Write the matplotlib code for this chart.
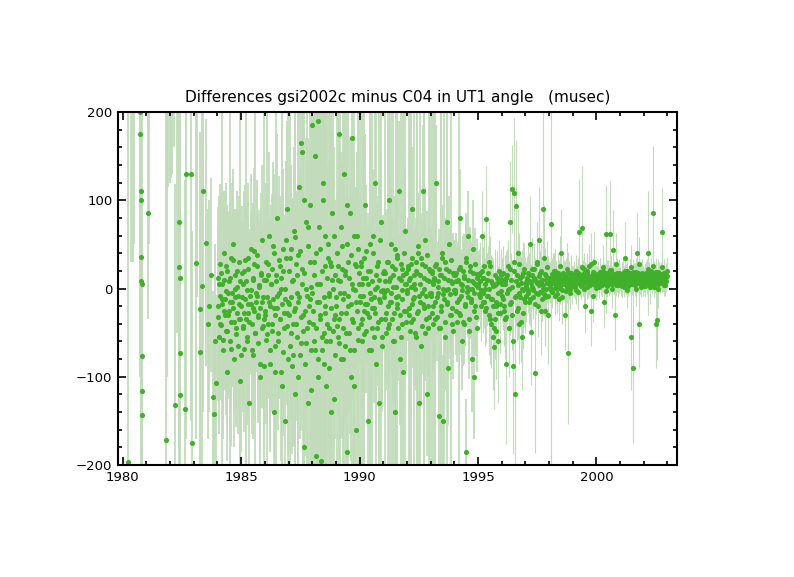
import numpy as np
import matplotlib
matplotlib.use('Agg')
import matplotlib.pyplot as plt
from matplotlib.ticker import MultipleLocator

# ---- data (epoch in years, difference and sigma in musec) ----
t_early = [1980.22, 1980.35, 1980.42, 1980.47,
           1980.74, 1980.75, 1980.76, 1980.77, 1980.78, 1980.79, 1980.80, 1980.81, 1980.82, 1980.83,
           1981.05, 1981.10,
           1981.81, 1981.86, 1981.92, 1981.98, 1982.04, 1982.10, 1982.16,
           1982.22, 1982.30, 1982.36, 1982.39, 1982.40, 1982.41, 1982.42, 1982.63, 1982.66, 1982.87, 1982.92,
           1983.08, 1983.15, 1983.25, 1983.27, 1983.33, 1983.39, 1983.53, 1983.60, 1983.66, 1983.72,
           1983.81, 1983.84, 1983.90, 1983.95]
d_early = [-197, 260, 240, 230,
           200, 175, 110, 100, 36, 8, 5, -76, -116, -143,
           86, 250,
           -172, 300, 280, 260, 250, 240, 260,
           -132, 250, 75, 24, 12, -73, -121, -137, 130, 130, -175,
           29, 240, -23, -72, 3, 110, 52, -40, -20, 15, -123, -142, -60, -107]
s_early = [420, 230, 210, 180,
           300, 250, 200, 280, 220, 300, 250, 150, 180, 60,
           120, 200,
           420, 400, 165, 140, 125, 110, 100,
           250, 300, 260, 230, 280, 250, 200, 260, 300, 280, 240,
           200, 250, 200, 150, 220, 250, 140, 130, 120, 110, 120, 100, 110, 100]

# first pass of sessions, 36 per year
t84 = [1984.01, 1984.04, 1984.07, 1984.09, 1984.12, 1984.15, 1984.18, 1984.20, 1984.23, 1984.26, 1984.29, 1984.31,
       1984.34, 1984.37, 1984.40, 1984.42, 1984.45, 1984.48, 1984.51, 1984.53, 1984.56, 1984.59, 1984.62, 1984.64,
       1984.67, 1984.70, 1984.73, 1984.75, 1984.78, 1984.81, 1984.84, 1984.86, 1984.89, 1984.92, 1984.95, 1984.97]
d84 = [-32, 12, -55, -8, 28, -41, -18, 5, -70, -25, 40, -12,
       -48, -3, 20, -95, -30, 8, -60, -15, 35, -38, -5, -22,
       50, -80, -10, 15, -45, -28, 2, -65, -18, 30, -35, -105]
s84 = [95, 80, 110, 75, 90, 85, 260, 80, 100, 90, 70, 85,
       95, 110, 75, 100, 90, 80, 95, 240, 85, 95, 70, 90,
       85, 100, 80, 75, 90, 95, 85, 100, 80, 75, 300, 90]

t85 = [1985.01, 1985.04, 1985.07, 1985.09, 1985.12, 1985.15, 1985.18, 1985.20, 1985.23, 1985.26, 1985.29, 1985.31,
       1985.34, 1985.37, 1985.40, 1985.42, 1985.45, 1985.48, 1985.51, 1985.53, 1985.56, 1985.59, 1985.62, 1985.64,
       1985.67, 1985.70, 1985.73, 1985.75, 1985.78, 1985.81, 1985.84, 1985.86, 1985.89, 1985.92, 1985.95, 1985.97]
d85 = [-20, 18, -42, 5, -68, -12, 32, -35, -2, -55, 22, -28,
       -130, -8, 45, -18, -40, 10, -75, -25, 28, -50, -5, -15,
       38, -62, -30, 2, -100, -22, 15, -45, 55, -10, -35, -88]
s85 = [80, 75, 90, 70, 95, 80, 85, 250, 75, 90, 80, 85,
       110, 75, 85, 80, 90, 70, 95, 85, 80, 320, 75, 80,
       85, 90, 80, 75, 100, 85, 70, 90, 85, 80, 280, 95]

t86 = [1986.01, 1986.04, 1986.07, 1986.09, 1986.12, 1986.15, 1986.18, 1986.20, 1986.23, 1986.26, 1986.29, 1986.31,
       1986.34, 1986.37, 1986.40, 1986.42, 1986.45, 1986.48, 1986.51, 1986.53, 1986.56, 1986.59, 1986.62, 1986.64,
       1986.67, 1986.70, 1986.73, 1986.75, 1986.78, 1986.81, 1986.84, 1986.86, 1986.89, 1986.92, 1986.95, 1986.97]
d86 = [-25, 30, -58, -10, 15, -40, 60, -20, -85, 5, -48, 22,
       -12, -140, 40, -30, -65, 8, -22, 80, -50, -5, 25, -35,
       -95, 12, -18, 45, -72, -28, 0, -150, 35, -42, 90, -15]
s86 = [85, 90, 95, 300, 80, 85, 95, 80, 100, 75, 90, 85,
       80, 110, 90, 85, 95, 270, 80, 95, 90, 85, 80, 90,
       100, 80, 310, 90, 95, 85, 80, 110, 85, 90, 100, 260]

t87 = [1987.01, 1987.04, 1987.07, 1987.09, 1987.12, 1987.15, 1987.18, 1987.20, 1987.23, 1987.26, 1987.29, 1987.31,
       1987.34, 1987.37, 1987.40, 1987.42, 1987.45, 1987.48, 1987.51, 1987.53, 1987.56, 1987.59, 1987.62, 1987.64,
       1987.67, 1987.70, 1987.73, 1987.75, 1987.78, 1987.81, 1987.84, 1987.86, 1987.89, 1987.92, 1987.95, 1987.97]
d87 = [-30, 20, -65, 45, -10, -88, 10, -40, 65, -22, -120, 28,
       -5, -55, 38, -15, 115, -75, -32, 165, 5, 155, -48, -180,
       18, -25, 75, -62, -8, -130, 48, -38, -12, 95, -70, 2]
s87 = [90, 85, 300, 95, 80, 100, 90, 85, 95, 320, 110, 80,
       85, 95, 90, 280, 100, 95, 90, 110, 85, 100, 330, 120,
       85, 90, 95, 100, 300, 110, 90, 85, 350, 95, 100, 80]

t88 = [1988.01, 1988.04, 1988.07, 1988.09, 1988.12, 1988.15, 1988.18, 1988.20, 1988.23, 1988.26, 1988.29, 1988.31,
       1988.34, 1988.37, 1988.40, 1988.42, 1988.45, 1988.48, 1988.51, 1988.53, 1988.56, 1988.59, 1988.62, 1988.64,
       1988.67, 1988.70, 1988.73, 1988.75, 1988.78, 1988.81, 1988.84, 1988.86, 1988.89, 1988.92, 1988.95, 1988.97]
d88 = [185, -25, -60, 30, 150, -45, -190, 5, -80, 190, -15, 45,
       -35, -195, 20, -70, 120, -10, -50, 60, -28, -110, 12, -40,
       35, -90, -5, -60, 25, -22, 85, -48, 0, -125, 15, -30]
s88 = [320, 350, 300, 340, 310, 360, 330, 300, 350, 320, 310, 340,
       300, 330, 320, 350, 310, 90, 300, 85, 320, 95, 90, 330,
       85, 95, 300, 90, 85, 280, 95, 90, 310, 100, 85, 90]

t89 = [1989.01, 1989.04, 1989.07, 1989.09, 1989.12, 1989.15, 1989.18, 1989.20, 1989.23, 1989.26, 1989.29, 1989.31,
       1989.34, 1989.37, 1989.40, 1989.42, 1989.45, 1989.48, 1989.51, 1989.53, 1989.56, 1989.59, 1989.62, 1989.64,
       1989.67, 1989.70, 1989.73, 1989.75, 1989.78, 1989.81, 1989.84, 1989.86, 1989.89, 1989.92, 1989.95, 1989.97]
d89 = [-20, 40, -55, 10, 175, -35, -5, 70, -80, 22, -45, -12,
       130, -65, 15, -28, 50, -185, -8, 30, -50, 85, -18, -100,
       5, 170, -38, 60, -70, -2, 25, -160, -25, 45, -58, 18]
s89 = [85, 300, 90, 80, 110, 95, 320, 85, 90, 80, 290, 85,
       100, 90, 80, 330, 85, 110, 80, 300, 90, 85, 80, 95,
       85, 120, 90, 85, 300, 80, 90, 110, 85, 340, 90, 80]

t90 = [1990.01, 1990.04, 1990.07, 1990.09, 1990.12, 1990.15, 1990.18, 1990.20, 1990.23, 1990.26, 1990.29, 1990.31,
       1990.34, 1990.37, 1990.40, 1990.42, 1990.45, 1990.48, 1990.51, 1990.53, 1990.56, 1990.59, 1990.62, 1990.64,
       1990.67, 1990.70, 1990.73, 1990.75, 1990.78, 1990.81, 1990.84, 1990.86, 1990.89, 1990.92, 1990.95, 1990.97]
d90 = [-15, 25, -40, 5, -60, -8, 35, -25, 95, -48, 12, -18,
       -150, 20, -32, 50, -5, -70, 8, -22, 40, -55, -10, 120,
       -28, 15, -45, 2, 30, -130, -12, 55, -35, -3, -65, 18]
s90 = [70, 65, 300, 60, 75, 65, 70, 350, 80, 70, 65, 60,
       90, 65, 70, 300, 60, 75, 65, 320, 70, 75, 60, 85,
       70, 280, 65, 60, 75, 90, 65, 70, 340, 60, 75, 65]

t91 = [1991.01, 1991.04, 1991.07, 1991.09, 1991.12, 1991.15, 1991.18, 1991.20, 1991.23, 1991.26, 1991.29, 1991.31,
       1991.34, 1991.37, 1991.40, 1991.42, 1991.45, 1991.48, 1991.51, 1991.53, 1991.56, 1991.59, 1991.62, 1991.64,
       1991.67, 1991.70, 1991.73, 1991.75, 1991.78, 1991.81, 1991.84, 1991.86, 1991.89, 1991.92, 1991.95, 1991.97]
d91 = [-10, 20, -35, 8, -50, -2, 30, -20, 100, -40, 12, -15,
       -5, 25, -60, 15, -28, 45, -140, 2, -18, 35, -45, -8,
       110, -30, 10, -55, 22, -12, -95, 40, -25, 5, -38, 18]
s91 = [60, 55, 300, 50, 65, 55, 310, 60, 75, 60, 55, 290,
       60, 55, 65, 330, 55, 60, 85, 50, 300, 55, 60, 55,
       80, 55, 320, 60, 55, 50, 75, 55, 60, 340, 55, 50]

t92 = [1992.01, 1992.04, 1992.07, 1992.09, 1992.12, 1992.15, 1992.18, 1992.20, 1992.23, 1992.26, 1992.29, 1992.31,
       1992.34, 1992.37, 1992.40, 1992.42, 1992.45, 1992.48, 1992.51, 1992.53, 1992.56, 1992.59, 1992.62, 1992.64,
       1992.67, 1992.70, 1992.73, 1992.75, 1992.78, 1992.81, 1992.84, 1992.86, 1992.89, 1992.92, 1992.95, 1992.97]
d92 = [-5, 22, -30, 10, -48, 2, 28, -18, 90, -35, 15, -10,
       0, 30, -55, 18, -25, 40, -130, 5, -15, 35, -42, -5,
       110, -22, 12, -50, 25, -8, -120, 38, -20, 8, -32, 20]
s92 = [55, 50, 300, 45, 60, 50, 320, 55, 70, 55, 50, 280,
       55, 50, 60, 310, 50, 55, 80, 45, 300, 50, 55, 50,
       75, 50, 290, 55, 50, 45, 70, 50, 55, 330, 50, 45]

t93 = [1993.01, 1993.04, 1993.07, 1993.09, 1993.12, 1993.15, 1993.18, 1993.20, 1993.23, 1993.26, 1993.29, 1993.31,
       1993.34, 1993.37, 1993.40, 1993.42, 1993.45, 1993.48, 1993.51, 1993.53, 1993.56, 1993.59, 1993.62, 1993.64,
       1993.67, 1993.70, 1993.73, 1993.75, 1993.78, 1993.81, 1993.84, 1993.86, 1993.89, 1993.92, 1993.95, 1993.97]
d93 = [-8, 18, -28, 5, -40, 12, 25, -15, 120, -32, 8, -5,
       -145, 22, -45, 15, -20, 35, -150, 0, -12, 30, -38, -2,
       75, -18, 10, -90, 20, -6, -30, 32, -22, 6, -48, 15]
s93 = [50, 45, 290, 45, 55, 45, 300, 50, 65, 50, 45, 45,
       70, 45, 55, 280, 45, 50, 75, 45, 310, 50, 50, 45,
       60, 45, 50, 65, 45, 45, 300, 45, 50, 45, 55, 40]

t94 = [1994.01, 1994.04, 1994.07, 1994.09, 1994.12, 1994.15, 1994.18, 1994.20, 1994.23, 1994.26, 1994.29, 1994.31,
       1994.34, 1994.37, 1994.40, 1994.42, 1994.45, 1994.48, 1994.51, 1994.53, 1994.56, 1994.59, 1994.62, 1994.64,
       1994.67, 1994.70, 1994.73, 1994.75, 1994.78, 1994.81, 1994.84, 1994.86, 1994.89, 1994.92, 1994.95, 1994.97]
d94 = [-5, 15, -25, 8, -38, 10, 22, -12, 80, -30, 5, -2,
       -60, 20, -40, 12, -18, 30, -185, 2, -10, 60, -35, 0,
       25, -15, 8, -80, 18, -5, -100, 28, -20, 4, -45, 12]
s94 = [45, 40, 50, 40, 45, 40, 260, 45, 55, 45, 40, 40,
       55, 40, 45, 50, 40, 45, 60, 40, 45, 50, 45, 40,
       45, 40, 45, 60, 40, 40, 70, 40, 45, 40, 50, 35]

t95 = [1995.01, 1995.04, 1995.07, 1995.09, 1995.12, 1995.15, 1995.18, 1995.20, 1995.23, 1995.26, 1995.29, 1995.31,
       1995.34, 1995.37, 1995.40, 1995.42, 1995.45, 1995.48, 1995.51, 1995.53, 1995.56, 1995.59, 1995.62, 1995.64,
       1995.67, 1995.70, 1995.73, 1995.75, 1995.78, 1995.81, 1995.84, 1995.86, 1995.89, 1995.92, 1995.95, 1995.97]
d95 = [2, 15, -10, 8, -20, 20, 60, -5, 12, -15, 5, -25,
       79, 10, -8, 18, -30, 0, 25, -12, -40, 6, -55, -20,
       -66, -35, 4, -48, -15, 12, -28, -60, 8, -18, -3, 15]
s95 = [35, 30, 35, 30, 40, 30, 50, 30, 35, 30, 30, 40,
       60, 30, 35, 30, 45, 30, 35, 30, 50, 30, 60, 35,
       70, 45, 30, 55, 35, 30, 40, 70, 30, 35, 30, 30]

t96 = [1996.01, 1996.04, 1996.07, 1996.09, 1996.12, 1996.15, 1996.18, 1996.20, 1996.23, 1996.26, 1996.29, 1996.31,
       1996.34, 1996.37, 1996.40, 1996.42, 1996.45, 1996.48, 1996.51, 1996.53, 1996.56, 1996.59, 1996.62, 1996.64,
       1996.67, 1996.70, 1996.73, 1996.75, 1996.78, 1996.81, 1996.84, 1996.86, 1996.89, 1996.92, 1996.95, 1996.97]
d96 = [5, -12, 18, -25, 8, -35, -86, 12, -5, 25, -45, 0,
       75, -18, 10, -30, 113, -88, 20, 108, -120, 93, -8, 15,
       -22, 4, -40, 28, -10, 6, -55, 14, -2, -28, 22, -15]
s96 = [30, 35, 30, 40, 30, 45, 90, 30, 35, 30, 50, 30,
       70, 35, 30, 40, 50, 100, 30, 85, 100, 75, 35, 30,
       35, 30, 45, 35, 30, 30, 60, 30, 35, 40, 30, 35]

t97 = [1997.01, 1997.04, 1997.07, 1997.09, 1997.12, 1997.15, 1997.18, 1997.20, 1997.23, 1997.26, 1997.29, 1997.31,
       1997.34, 1997.37, 1997.40, 1997.42, 1997.45, 1997.48, 1997.51, 1997.53, 1997.56, 1997.59, 1997.62, 1997.64,
       1997.67, 1997.70, 1997.73, 1997.75, 1997.78, 1997.81, 1997.84, 1997.86, 1997.89, 1997.92, 1997.95, 1997.97]
d97 = [5, -8, 12, -2, 18, -15, 50, 8, -49, 2, 15, -10,
       0, 22, -96, 10, -5, 28, 6, -20, 14, 55, -4, 8,
       20, -12, 4, 90, -6, 16, -25, 10, 0, 24, -8, 12]
s97 = [25, 30, 25, 25, 30, 25, 55, 25, 60, 25, 30, 25,
       25, 30, 90, 25, 25, 30, 25, 35, 25, 60, 25, 25,
       30, 25, 25, 120, 25, 30, 40, 25, 25, 30, 25, 25]

t98 = [1998.01, 1998.04, 1998.07, 1998.09, 1998.12, 1998.15, 1998.18, 1998.20, 1998.23, 1998.26, 1998.29, 1998.31,
       1998.34, 1998.37, 1998.40, 1998.42, 1998.45, 1998.48, 1998.51, 1998.53, 1998.56, 1998.59, 1998.62, 1998.64,
       1998.67, 1998.70, 1998.73, 1998.75, 1998.78, 1998.81, 1998.84, 1998.86, 1998.89, 1998.92, 1998.95, 1998.97]
d98 = [8, 2, 73, 12, -4, 15, 6, 20, -8, 10, 4, 14,
       0, 18, 7, -12, 11, 3, 40, 9, -2, 16, 5, 12,
       -30, 8, 14, 2, 19, -73, 6, 11, -5, 15, 9, 3]
s98 = [20, 18, 400, 20, 18, 25, 18, 20, 22, 18, 20, 18,
       20, 22, 18, 25, 18, 20, 50, 18, 20, 22, 18, 20,
       40, 18, 20, 18, 22, 80, 18, 20, 18, 22, 18, 20]

t99 = [1999.01, 1999.04, 1999.07, 1999.09, 1999.12, 1999.15, 1999.18, 1999.20, 1999.23, 1999.26, 1999.29, 1999.31,
       1999.34, 1999.37, 1999.40, 1999.42, 1999.45, 1999.48, 1999.51, 1999.53, 1999.56, 1999.59, 1999.62, 1999.64,
       1999.67, 1999.70, 1999.73, 1999.75, 1999.78, 1999.81, 1999.84, 1999.86, 1999.89, 1999.92, 1999.95, 1999.97]
d99 = [10, 4, 15, 8, 20, -2, 12, 6, 18, 64, 9, 14,
       3, 69, 11, 16, 5, 22, 7, -20, 13, 2, 17, 10,
       8, 25, 4, 14, -25, 11, 19, 6, 30, 9, 15, 1]
s99 = [15, 14, 16, 15, 18, 15, 15, 14, 16, 60, 15, 14,
       15, 70, 15, 16, 14, 18, 15, 30, 15, 14, 16, 15,
       15, 25, 14, 15, 40, 15, 16, 14, 35, 15, 15, 14]

t00 = [2000.01, 2000.04, 2000.07, 2000.09, 2000.12, 2000.15, 2000.18, 2000.20, 2000.23, 2000.26, 2000.29, 2000.31,
       2000.34, 2000.37, 2000.40, 2000.42, 2000.45, 2000.48, 2000.51, 2000.53, 2000.56, 2000.59, 2000.62, 2000.64,
       2000.67, 2000.70, 2000.73, 2000.75, 2000.78, 2000.81, 2000.84, 2000.86, 2000.89, 2000.92, 2000.95, 2000.97]
d00 = [12, 5, 16, 9, 2, 18, 7, 13, 4, 20, 10, -15,
       15, 6, 11, 62, 3, 17, 8, 14, 62, 9, 21, 5,
       12, 44, 7, 16, -30, 10, 4, 18, 13, 6, 15, 9]
s00 = [14, 13, 15, 14, 13, 16, 14, 13, 14, 16, 14, 30,
       14, 13, 15, 55, 13, 15, 14, 13, 60, 14, 16, 13,
       14, 45, 13, 15, 40, 14, 13, 16, 14, 13, 15, 14]

t01 = [2001.01, 2001.04, 2001.07, 2001.09, 2001.12, 2001.15, 2001.18, 2001.20, 2001.23, 2001.26, 2001.29, 2001.31,
       2001.34, 2001.37, 2001.40, 2001.42, 2001.45, 2001.48, 2001.51, 2001.53, 2001.56, 2001.59, 2001.62, 2001.64,
       2001.67, 2001.70, 2001.73, 2001.75, 2001.78, 2001.81, 2001.84, 2001.86, 2001.89, 2001.92, 2001.95, 2001.97]
d01 = [10, 4, 15, 8, 18, 2, 12, 35, 6, 14, 9, 20,
       3, 11, 16, 7, -55, 13, 5, 19, -90, 10, 15, 4,
       12, 40, 8, 17, -40, 6, 14, 10, 2, 18, 9, 13]
s01 = [13, 12, 14, 13, 15, 12, 13, 40, 12, 14, 13, 15,
       12, 13, 14, 12, 60, 13, 12, 14, 85, 13, 14, 12,
       13, 45, 12, 14, 50, 12, 13, 14, 12, 15, 13, 12]

t02 = [2002.01, 2002.04, 2002.07, 2002.09, 2002.12, 2002.15, 2002.18, 2002.20, 2002.23, 2002.26, 2002.29, 2002.31,
       2002.34, 2002.37, 2002.40, 2002.42, 2002.45, 2002.48, 2002.51, 2002.53, 2002.56, 2002.59, 2002.62, 2002.64,
       2002.67, 2002.70, 2002.73, 2002.75, 2002.78, 2002.81, 2002.84, 2002.86, 2002.89, 2002.92, 2002.95, 2002.97]
d02 = [9, 15, 3, 12, 18, 6, 40, 10, 16, 4, 13, 20,
       7, 86, 11, 2, 17, 8, -40, 14, -36, 5, 19, 10,
       12, 6, 16, 9, 64, 13, 4, 18, 10, 15, 8, 14]
s02 = [13, 14, 12, 13, 15, 12, 70, 13, 14, 12, 13, 15,
       12, 75, 13, 12, 14, 13, 50, 13, 45, 12, 14, 13,
       13, 12, 14, 13, 50, 13, 12, 15, 13, 14, 12, 13]

# second pass of sessions, 24 per year (the dense core)
t84b = [1984.02, 1984.06, 1984.10, 1984.14, 1984.19, 1984.23, 1984.27, 1984.31, 1984.35, 1984.40, 1984.44, 1984.48,
        1984.52, 1984.56, 1984.60, 1984.65, 1984.69, 1984.73, 1984.77, 1984.81, 1984.85, 1984.90, 1984.94, 1984.98]
d84b = [-20, 5, -40, 18, -12, -58, 10, -30, 25, -48, -5, -25, 12, -68, -15, 32, -38, 0, -52, 20, -8, -35, 8, -75]
s84b = [90, 100, 85, 95, 110, 90, 100, 85, 95, 105, 90, 100, 85, 110, 95, 90, 100, 85, 105, 90, 95, 100, 85, 110]

t85b = [1985.02, 1985.06, 1985.10, 1985.14, 1985.19, 1985.23, 1985.27, 1985.31, 1985.35, 1985.40, 1985.44, 1985.48,
        1985.52, 1985.56, 1985.60, 1985.65, 1985.69, 1985.73, 1985.77, 1985.81, 1985.85, 1985.90, 1985.94, 1985.98]
d85b = [-10, -45, 20, -28, 8, -60, -18, 35, -38, -2, -70, 12, -22, 42, -50, -8, 25, -32, 4, -85, 18, -15, -42, 10]
s85b = [85, 95, 90, 100, 85, 95, 90, 85, 100, 90, 95, 85, 90, 95, 100, 85, 90, 95, 85, 100, 90, 85, 95, 90]

t86b = [1986.02, 1986.06, 1986.10, 1986.14, 1986.19, 1986.23, 1986.27, 1986.31, 1986.35, 1986.40, 1986.44, 1986.48,
        1986.52, 1986.56, 1986.60, 1986.65, 1986.69, 1986.73, 1986.77, 1986.81, 1986.85, 1986.90, 1986.94, 1986.98]
d86b = [-30, 10, -52, 28, -15, -70, 5, -40, 48, -22, -95, 15, -8, -60, 32, -35, 0, -110, 20, -45, -12, 55, -28, -80]
s86b = [90, 95, 100, 90, 95, 105, 90, 100, 95, 90, 110, 95, 90, 100, 95, 90, 95, 110, 90, 100, 95, 90, 100, 105]

t87b = [1987.02, 1987.06, 1987.10, 1987.14, 1987.19, 1987.23, 1987.27, 1987.31, 1987.35, 1987.40, 1987.44, 1987.48,
        1987.52, 1987.56, 1987.60, 1987.65, 1987.69, 1987.73, 1987.77, 1987.81, 1987.85, 1987.90, 1987.94, 1987.98]
d87b = [-18, 35, -50, 8, -75, -25, 58, -40, 15, -100, -10, 42, -62, 22, -30, 100, -85, 0, -45, 70, -20, 30, -115, -5]
s87b = [95, 90, 100, 95, 105, 90, 300, 100, 95, 110, 90, 95, 100, 90, 95, 310, 105, 90, 95, 100, 90, 95, 110, 320]

t88b = [1988.02, 1988.06, 1988.10, 1988.14, 1988.19, 1988.23, 1988.27, 1988.31, 1988.35, 1988.40, 1988.44, 1988.48,
        1988.52, 1988.56, 1988.60, 1988.65, 1988.69, 1988.73, 1988.77, 1988.81, 1988.85, 1988.90, 1988.94, 1988.98]
d88b = [-40, 15, -70, 40, -15, -100, 70, -30, 5, -55, 100, -85, 25, -20, -60, 50, -8, -45, 30, -140, 10, -35, 60, -75]
s88b = [330, 310, 340, 320, 300, 350, 310, 330, 320, 300, 340, 310, 100, 95, 320, 90, 95, 100, 310, 110, 90, 95, 100, 95]

t89b = [1989.02, 1989.06, 1989.10, 1989.14, 1989.19, 1989.23, 1989.27, 1989.31, 1989.35, 1989.40, 1989.44, 1989.48,
        1989.52, 1989.56, 1989.60, 1989.65, 1989.69, 1989.73, 1989.77, 1989.81, 1989.85, 1989.90, 1989.94, 1989.98]
d89b = [-10, -42, 25, -62, 8, -28, 48, -80, -5, 20, -50, 95, -20, 12, -70, 38, -35, 0, -110, 28, -15, 60, -45, 5]
s89b = [90, 95, 85, 320, 90, 85, 95, 100, 300, 85, 90, 110, 85, 90, 95, 85, 310, 90, 110, 85, 90, 95, 90, 330]

t90b = [1990.02, 1990.06, 1990.10, 1990.14, 1990.19, 1990.23, 1990.27, 1990.31, 1990.35, 1990.40, 1990.44, 1990.48,
        1990.52, 1990.56, 1990.60, 1990.65, 1990.69, 1990.73, 1990.77, 1990.81, 1990.85, 1990.90, 1990.94, 1990.98]
d90b = [-8, 30, -35, 12, -52, -18, 42, -28, 5, -70, 20, -12, -45, 60, -22, 0, -85, 25, -38, 10, -15, 75, -55, -2]
s90b = [65, 70, 60, 300, 70, 65, 75, 60, 65, 80, 310, 65, 70, 75, 60, 65, 85, 70, 60, 320, 65, 80, 70, 65]

t91b = [1991.02, 1991.06, 1991.10, 1991.14, 1991.19, 1991.23, 1991.27, 1991.31, 1991.35, 1991.40, 1991.44, 1991.48,
        1991.52, 1991.56, 1991.60, 1991.65, 1991.69, 1991.73, 1991.77, 1991.81, 1991.85, 1991.90, 1991.94, 1991.98]
d91b = [-5, 18, -28, 30, -45, 8, -15, 50, -35, 2, -60, 22, -10, 38, -22, 12, -80, 28, -2, -40, 15, 65, -25, 5]
s91b = [55, 60, 55, 60, 65, 300, 55, 65, 60, 55, 70, 55, 310, 60, 55, 50, 75, 60, 55, 60, 300, 70, 55, 50]

t92b = [1992.02, 1992.06, 1992.10, 1992.14, 1992.19, 1992.23, 1992.27, 1992.31, 1992.35, 1992.40, 1992.44, 1992.48,
        1992.52, 1992.56, 1992.60, 1992.65, 1992.69, 1992.73, 1992.77, 1992.81, 1992.85, 1992.90, 1992.94, 1992.98]
d92b = [-2, 25, -22, 12, -38, 35, -12, 5, -50, 20, -28, 48, -8, 15, -65, 28, -18, 0, 55, -35, 10, -45, 22, -5]
s92b = [50, 55, 50, 310, 55, 50, 50, 45, 60, 50, 300, 60, 50, 45, 65, 50, 55, 290, 60, 55, 45, 55, 50, 320]

t93b = [1993.02, 1993.06, 1993.10, 1993.14, 1993.19, 1993.23, 1993.27, 1993.31, 1993.35, 1993.40, 1993.44, 1993.48,
        1993.52, 1993.56, 1993.60, 1993.65, 1993.69, 1993.73, 1993.77, 1993.81, 1993.85, 1993.90, 1993.94, 1993.98]
d93b = [-5, 20, -20, 10, -35, 28, -10, 2, -45, 15, -25, 40, -6, 12, -55, 22, -15, 0, 50, -30, 8, -40, 18, -2]
s93b = [45, 50, 45, 300, 50, 45, 45, 40, 55, 45, 290, 55, 45, 40, 60, 45, 310, 45, 55, 50, 40, 50, 45, 45]

t94b = [1994.02, 1994.06, 1994.10, 1994.14, 1994.19, 1994.23, 1994.27, 1994.31, 1994.35, 1994.40, 1994.44, 1994.48,
        1994.52, 1994.56, 1994.60, 1994.65, 1994.69, 1994.73, 1994.77, 1994.81, 1994.85, 1994.90, 1994.94, 1994.98]
d94b = [-2, 18, -15, 8, -28, 24, -8, 4, -38, 14, -20, 35, -4, 10, -48, 20, -12, 0, 45, -25, 6, -32, 16, 2]
s94b = [40, 45, 40, 45, 45, 40, 40, 35, 50, 40, 45, 50, 40, 35, 55, 40, 45, 40, 55, 45, 35, 45, 40, 40]

t95b = [1995.02, 1995.06, 1995.10, 1995.14, 1995.19, 1995.23, 1995.27, 1995.31, 1995.35, 1995.40, 1995.44, 1995.48,
        1995.52, 1995.56, 1995.60, 1995.65, 1995.69, 1995.73, 1995.77, 1995.81, 1995.85, 1995.90, 1995.94, 1995.98]
d95b = [5, -6, 18, -2, 12, -15, 25, 0, -22, 10, -8, 30, -35, 8, -12, 3, -45, 15, -20, 6, -5, 20, -28, 10]
s95b = [30, 30, 35, 30, 30, 35, 40, 30, 40, 30, 30, 45, 50, 30, 35, 30, 55, 30, 40, 30, 30, 35, 45, 30]

t96b = [1996.02, 1996.06, 1996.10, 1996.14, 1996.19, 1996.23, 1996.27, 1996.31, 1996.35, 1996.40, 1996.44, 1996.48,
        1996.52, 1996.56, 1996.60, 1996.65, 1996.69, 1996.73, 1996.77, 1996.81, 1996.85, 1996.90, 1996.94, 1996.98]
d96b = [-8, 10, -20, 5, -32, 15, -2, -45, 22, -15, 2, -60, 30, -10, 8, -25, 40, -5, 12, -38, 0, 18, -12, 6]
s96b = [30, 30, 35, 30, 45, 30, 30, 55, 35, 30, 30, 70, 40, 30, 30, 35, 50, 30, 30, 45, 30, 35, 30, 30]

t97b = [1997.02, 1997.06, 1997.10, 1997.14, 1997.19, 1997.23, 1997.27, 1997.31, 1997.35, 1997.40, 1997.44, 1997.48,
        1997.52, 1997.56, 1997.60, 1997.65, 1997.69, 1997.73, 1997.77, 1997.81, 1997.85, 1997.90, 1997.94, 1997.98]
d97b = [2, 10, -5, 15, -12, 6, 22, -2, 12, -18, 8, 30, -6, 4, 18, -25, 10, 0, 35, -10, 14, 6, -30, 9]
s97b = [22, 25, 22, 25, 30, 22, 35, 22, 25, 40, 22, 45, 25, 22, 25, 50, 22, 22, 60, 25, 22, 22, 55, 22]

t98b = [1998.02, 1998.06, 1998.10, 1998.14, 1998.19, 1998.23, 1998.27, 1998.31, 1998.35, 1998.40, 1998.44, 1998.48,
        1998.52, 1998.56, 1998.60, 1998.65, 1998.69, 1998.73, 1998.77, 1998.81, 1998.85, 1998.90, 1998.94, 1998.98]
d98b = [5, 12, -2, 16, 8, 1, 20, 10, -6, 14, 4, 25, 9, -10, 17, 6, 13, -3, 22, 7, 11, 0, 18, 5]
s98b = [18, 18, 20, 18, 18, 20, 25, 18, 22, 18, 18, 35, 18, 30, 20, 18, 18, 25, 30, 18, 18, 22, 20, 18]

t99b = [1999.02, 1999.06, 1999.10, 1999.14, 1999.19, 1999.23, 1999.27, 1999.31, 1999.35, 1999.40, 1999.44, 1999.48,
        1999.52, 1999.56, 1999.60, 1999.65, 1999.69, 1999.73, 1999.77, 1999.81, 1999.85, 1999.90, 1999.94, 1999.98]
d99b = [7, 14, 2, 18, 10, -4, 16, 5, 12, 24, 8, 0, 15, 9, 20, 3, 13, 6, 28, 11, -8, 17, 4, 12]
s99b = [14, 15, 14, 16, 14, 20, 15, 14, 15, 25, 14, 18, 15, 14, 20, 14, 15, 14, 35, 15, 30, 16, 14, 15]

t00b = [2000.02, 2000.06, 2000.10, 2000.14, 2000.19, 2000.23, 2000.27, 2000.31, 2000.35, 2000.40, 2000.44, 2000.48,
        2000.52, 2000.56, 2000.60, 2000.65, 2000.69, 2000.73, 2000.77, 2000.81, 2000.85, 2000.90, 2000.94, 2000.98]
d00b = [9, 15, 3, 19, 11, 6, 24, 8, 14, -3, 17, 10, 5, 21, 12, 0, 16, 7, 13, 28, 9, 4, 18, 11]
s00b = [13, 14, 13, 16, 13, 14, 25, 13, 14, 25, 15, 13, 14, 20, 13, 22, 14, 13, 14, 35, 13, 14, 15, 13]

t01b = [2001.02, 2001.06, 2001.10, 2001.14, 2001.19, 2001.23, 2001.27, 2001.31, 2001.35, 2001.40, 2001.44, 2001.48,
        2001.52, 2001.56, 2001.60, 2001.65, 2001.69, 2001.73, 2001.77, 2001.81, 2001.85, 2001.90, 2001.94, 2001.98]
d01b = [8, 16, 3, 12, 20, 6, 14, -2, 10, 18, 5, 24, 11, 7, 15, 0, 19, 9, 13, 28, 6, 16, 10, 4]
s01b = [12, 14, 13, 12, 18, 12, 14, 20, 12, 15, 12, 25, 13, 12, 14, 20, 15, 12, 13, 30, 12, 14, 12, 13]

t02b = [2002.02, 2002.06, 2002.10, 2002.14, 2002.19, 2002.23, 2002.27, 2002.31, 2002.35, 2002.40, 2002.44, 2002.48,
        2002.52, 2002.56, 2002.60, 2002.65, 2002.69, 2002.73, 2002.77, 2002.81, 2002.85, 2002.90, 2002.94, 2002.98]
d02b = [11, 5, 17, 8, 22, 13, 2, 15, 9, 26, 6, 14, 19, 10, 0, 16, 7, 12, 24, 9, 18, 4, 13, 20]
s02b = [12, 13, 14, 12, 18, 13, 20, 14, 12, 25, 12, 13, 15, 12, 22, 14, 12, 13, 20, 12, 15, 13, 12, 16]

title = 'Differences gsi2002c minus C04 in UT1 angle   (musec)'
x_ticks = [1980, 1985, 1990, 1995, 2000]
y_ticks = [-200, -100, 0, 100, 200]

# ---- assemble ----
t_parts = [t_early, t84, t85, t86, t87, t88, t89, t90, t91, t92, t93, t94, t95, t96, t97, t98, t99, t00, t01, t02,
           t84b, t85b, t86b, t87b, t88b, t89b, t90b, t91b, t92b, t93b, t94b, t95b, t96b, t97b, t98b, t99b,
           t00b, t01b, t02b]
d_parts = [d_early, d84, d85, d86, d87, d88, d89, d90, d91, d92, d93, d94, d95, d96, d97, d98, d99, d00, d01, d02,
           d84b, d85b, d86b, d87b, d88b, d89b, d90b, d91b, d92b, d93b, d94b, d95b, d96b, d97b, d98b, d99b,
           d00b, d01b, d02b]
s_parts = [s_early, s84, s85, s86, s87, s88, s89, s90, s91, s92, s93, s94, s95, s96, s97, s98, s99, s00, s01, s02,
           s84b, s85b, s86b, s87b, s88b, s89b, s90b, s91b, s92b, s93b, s94b, s95b, s96b, s97b, s98b, s99b,
           s00b, s01b, s02b]
t = np.concatenate(t_parts)
d = np.concatenate(d_parts).astype(float)
s = np.concatenate(s_parts).astype(float)

plt.rcParams['font.family'] = ['DejaVu Sans']

fig = plt.figure(figsize=(7.94, 5.77), dpi=100)
ax = fig.add_axes([0.1486, 0.1941, 0.7040, 0.6118])

# error bars: older, sparser VLBI years drawn a bit heavier
old = t < 1995
ax.vlines(t[old], d[old] - s[old], d[old] + s[old], color='#c2dcbb', lw=1.3, zorder=1)
ax.vlines(t[~old], d[~old] - s[~old], d[~old] + s[~old], color='#c2dcbb', lw=0.8, zorder=1)
ax.plot(t, d, 'o', color='#40b02a', ms=3.7, mew=0, zorder=2)

ax.set_xlim(1979.8, 2003.4)
ax.set_ylim(-200, 200)
ax.set_xticks(x_ticks)
ax.set_yticks(y_ticks)
ax.xaxis.set_minor_locator(MultipleLocator(1))
ax.yaxis.set_minor_locator(MultipleLocator(20))
ax.tick_params(which='both', direction='in', top=True, right=True, labelsize=9.5, width=1.2, pad=4)
ax.tick_params(which='major', length=6)
ax.tick_params(which='minor', length=3)
for sp in ax.spines.values():
    sp.set_linewidth(1.5)

ax.set_title(title, fontsize=11, pad=7)

fig.savefig('out.png', dpi=100, facecolor='white')
